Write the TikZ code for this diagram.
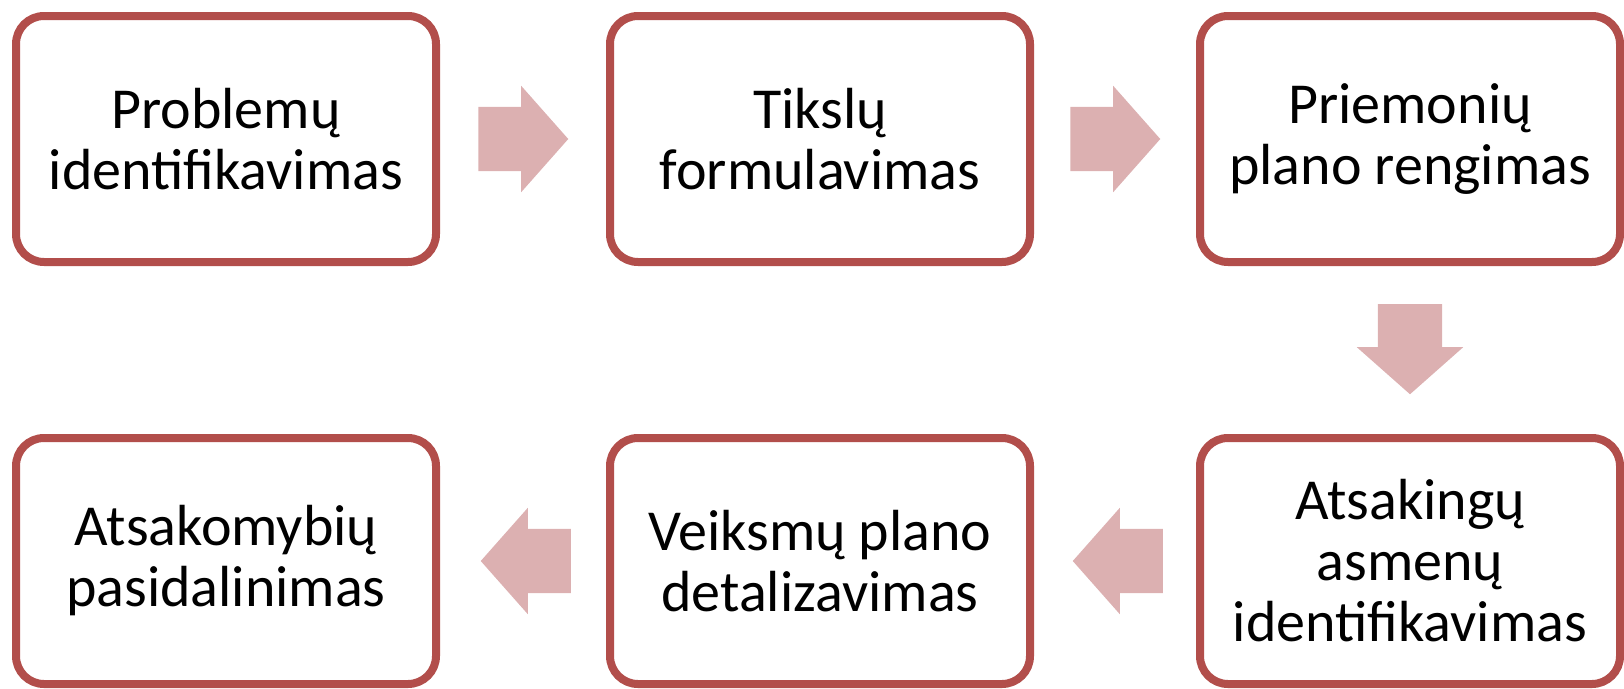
\documentclass[tikz,border=0pt]{standalone}
\usepackage{fontspec}
\setmainfont{Carlito}
\usetikzlibrary{shapes.arrows,calc}
\definecolor{stepred}{HTML}{B24E4B}
\definecolor{arrowpink}{HTML}{DCB0B1}
\tikzset{
    stepbox/.style={draw=stepred,line width=8pt,rounded corners=28pt,
        fill=white,minimum width=420pt,minimum height=246pt,
        align=center,inner sep=0pt,
        font=\fontsize{58}{61}\selectfont},
    flowarrow/.style={single arrow,fill=arrowpink,draw=none,
        inner xsep=0pt,inner ysep=32pt,minimum height=90pt,
        single arrow head extend=21pt,single arrow tip angle=97},
}
\begin{document}
\begin{tikzpicture}[x=1pt,y=-1pt]
    \useasboundingbox (0,0) rectangle (1624,688);

    % top row
    \node[stepbox] (prob) at (226,139) {Problemų\\identifikavimas};
    \node[stepbox] (tiks) at (820,139) {Tikslų\\formulavimas};
    \node[stepbox] (prie) at (1410,139) {Priemonių\\plano rengimas};

    % bottom row
    \node[stepbox] (atsa) at (1410,561) {Atsakingų\\asmenų\\identifikavimas};
    \node[stepbox] (veik) at (820,561) {Veiksmų plano\\detalizavimas};
    \node[stepbox] (pasi) at (226,561) {Atsakomybių\\pasidalinimas};

    % block arrows between the steps
    \node[flowarrow,xshift=-14pt] (a1) at ($(prob.east)!0.5!(tiks.west)$) {};
    \node[flowarrow,xshift=-14pt] (a2) at ($(tiks.east)!0.5!(prie.west)$) {};
    \node[flowarrow,rotate=-90,xshift=-15pt] (a3)
        at ($(prie.south)!0.5!(atsa.north)$) {};
    \node[flowarrow,rotate=180,xshift=-17pt] (a4)
        at ($(atsa.west)!0.5!(veik.east)$) {};
    \node[flowarrow,rotate=180,xshift=-17pt] (a5)
        at ($(veik.west)!0.5!(pasi.east)$) {};
\end{tikzpicture}
\end{document}
